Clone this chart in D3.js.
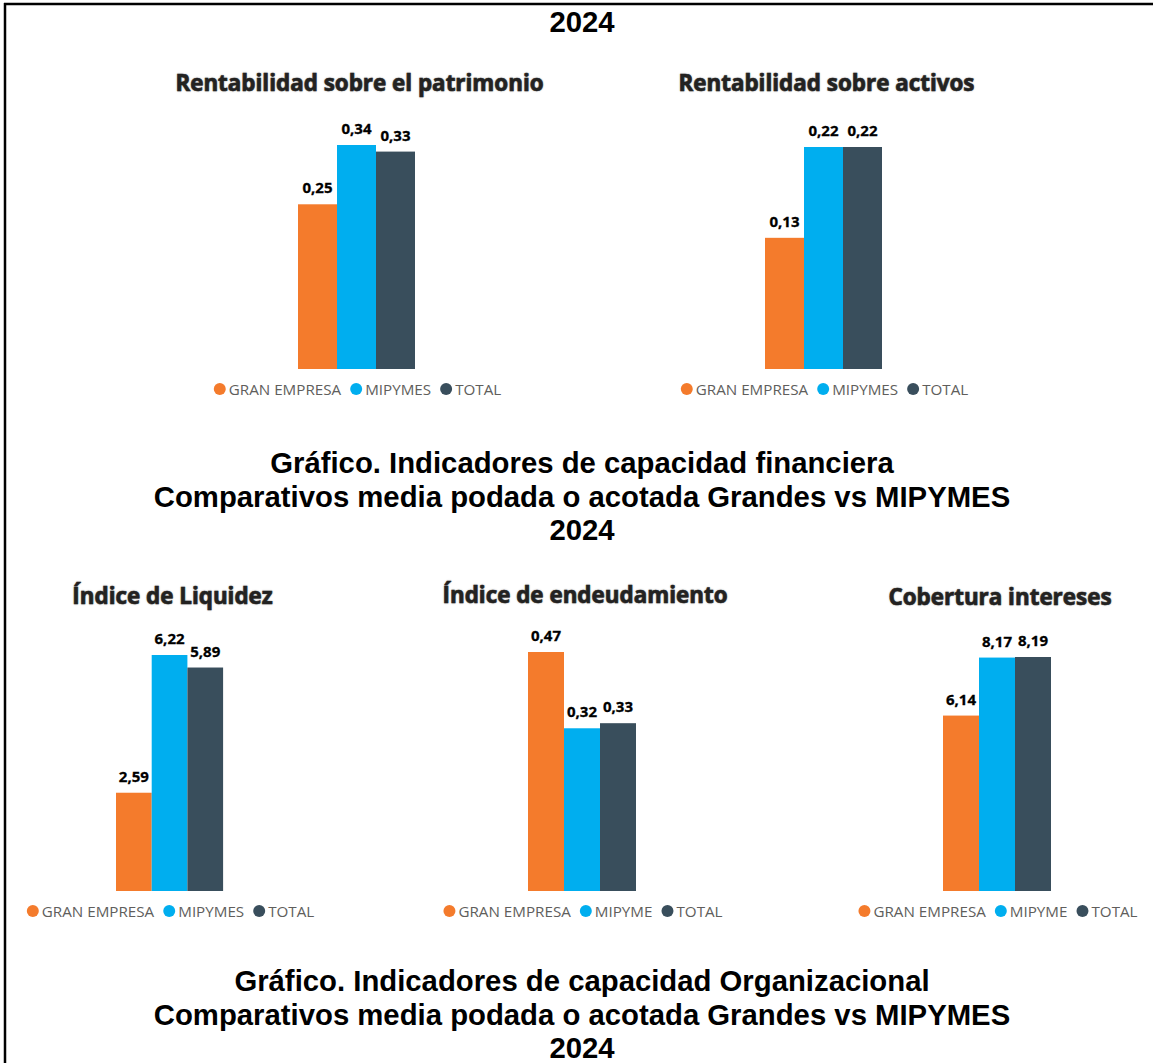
<!DOCTYPE html>
<html>
<head>
<meta charset="utf-8">
<script src="https://cdn.jsdelivr.net/npm/d3@7"></script>
<style>
  html, body { margin: 0; padding: 0; background: #ffffff; }
  svg { display: block; }
</style>
</head>
<body>
<script>
// ---------------- DATA ----------------
const seriesNames = ["GRAN EMPRESA", "MIPYMES", "TOTAL"];
const seriesNamesB = ["GRAN EMPRESA", "MIPYME", "TOTAL"];
const seriesColors = ["#F47B2C", "#00AEEF", "#394E5C"];

const chartTitles = [
  "Rentabilidad sobre el patrimonio",
  "Rentabilidad sobre activos",
  "Índice de Liquidez",
  "Índice de endeudamiento",
  "Cobertura intereses"
];
const rentPatrimonio = [0.25, 0.34, 0.33];
const rentActivos = [0.13, 0.22, 0.22];
const indiceLiquidez = [2.59, 6.22, 5.89];
const indiceEndeudamiento = [0.47, 0.32, 0.33];
const coberturaIntereses = [6.14, 8.17, 8.19];

const topTitle = ["2024"];
const middleTitle = [
  "Gráfico. Indicadores de capacidad financiera",
  "Comparativos media podada o acotada Grandes vs MIPYMES",
  "2024"
];
const bottomTitle = [
  "Gráfico. Indicadores de capacidad Organizacional",
  "Comparativos media podada o acotada Grandes vs MIPYMES",
  "2024"
];

// ---------------- LAYOUT ----------------
const W = 1153, H = 1063;
const svg = d3.select("body").append("svg").attr("width", W).attr("height", H);

svg.append("rect").attr("width", W).attr("height", H).attr("fill", "#fff");
// frame lines (top and left)
svg.append("line").attr("x1", 4).attr("x2", W).attr("y1", 4).attr("y2", 4)
  .attr("stroke", "#000").attr("stroke-width", 2.5);
svg.append("line").attr("x1", 5).attr("x2", 5).attr("y1", 3).attr("y2", H)
  .attr("stroke", "#000").attr("stroke-width", 2.5);

const bigFont = "'Liberation Sans', Arial, sans-serif";
const chartFont = "'Open Sans', 'Noto Sans', sans-serif";

function bigTitle(lines, firstBaseline) {
  svg.append("g").selectAll("text").data(lines).join("text")
    .attr("x", 582).attr("y", (d, i) => firstBaseline + i * 33.6)
    .attr("text-anchor", "middle")
    .attr("font-family", bigFont).attr("font-weight", "bold")
    .attr("font-size", 29.3).attr("fill", "#000")
    .text(d => d);
}
bigTitle(topTitle, 32);
bigTitle(middleTitle, 473);
bigTitle(bottomTitle, 991);

const charts = [
  { title: chartTitles[0], values: rentPatrimonio, names: seriesNames, left: 298, bw: 39, base: 369, top: 145, titleY: 91, legendY: 389 },
  { title: chartTitles[1], values: rentActivos, names: seriesNames, left: 765, bw: 39, base: 369, top: 147, titleY: 91, legendY: 389 },
  { title: chartTitles[2], values: indiceLiquidez, names: seriesNames, left: 116, bw: 35.7, base: 891, top: 655, titleY: 604, legendY: 911 },
  { title: chartTitles[3], values: indiceEndeudamiento, names: seriesNamesB, left: 528, bw: 36, base: 891, top: 652, titleY: 603, legendY: 911 },
  { title: chartTitles[4], values: coberturaIntereses, names: seriesNamesB, left: 943, bw: 36, base: 891, top: 657, titleY: 605, legendY: 911 }
];

const fmt = v => d3.format(".2f")(v).replace(".", ",");

charts.forEach(c => {
  const g = svg.append("g");
  const x = d3.scaleBand().domain(c.names).range([c.left, c.left + c.bw * 3]).paddingInner(0).paddingOuter(0);
  const y = d3.scaleLinear().domain([0, d3.max(c.values)]).range([c.base, c.top]);
  const color = d3.scaleOrdinal().domain(c.names).range(seriesColors);
  const cx = c.left + c.bw * 1.5;

  // title
  g.append("text")
    .attr("x", cx + 3).attr("y", c.titleY)
    .attr("text-anchor", "middle")
    .attr("font-family", chartFont).attr("font-weight", 700)
    .attr("font-size", 22.4).attr("fill", "#252423")
    .attr("stroke", "#252423").attr("stroke-width", 0.6)
    .style("text-shadow", "0px 0px 1.5px rgba(0,0,0,0.35)")
    .text(c.title);

  // bars
  g.selectAll("rect.bar").data(c.values).join("rect")
    .attr("class", "bar")
    .attr("x", (d, i) => x(c.names[i]))
    .attr("width", x.bandwidth())
    .attr("y", d => y(d))
    .attr("height", d => y(0) - y(d))
    .attr("fill", (d, i) => color(c.names[i]));

  // labels
  g.selectAll("text.lbl").data(c.values).join("text")
    .attr("class", "lbl")
    .attr("x", (d, i) => x(c.names[i]) + x.bandwidth() / 2)
    .attr("y", d => y(d) - 11)
    .attr("text-anchor", "middle")
    .attr("font-family", chartFont).attr("font-weight", 700)
    .attr("font-size", 15).attr("fill", "#000")
    .attr("stroke", "#000").attr("stroke-width", 0.3)
    .text(d => fmt(d));

  // legend (centered on bar group)
  const lg = g.append("g");
  let pos = 0;
  c.names.forEach((n, i) => {
    const it = lg.append("g");
    it.append("circle").attr("cx", 0).attr("cy", 0).attr("r", 6).attr("fill", seriesColors[i]);
    const t = it.append("text").attr("x", 9).attr("y", 5.5)
      .attr("font-family", chartFont).attr("font-size", 15.2).attr("fill", "#605E5C")
      .text(n);
    const tw = t.node().getComputedTextLength();
    it.attr("transform", `translate(${pos},0)`);
    pos += 9 + tw + 15;
  });
  const totalW = pos - 15 + 6;
  const startX = cx + 1 - totalW / 2 + 6;
  lg.attr("transform", `translate(${startX},${c.legendY})`);
});
</script>
</body>
</html>
